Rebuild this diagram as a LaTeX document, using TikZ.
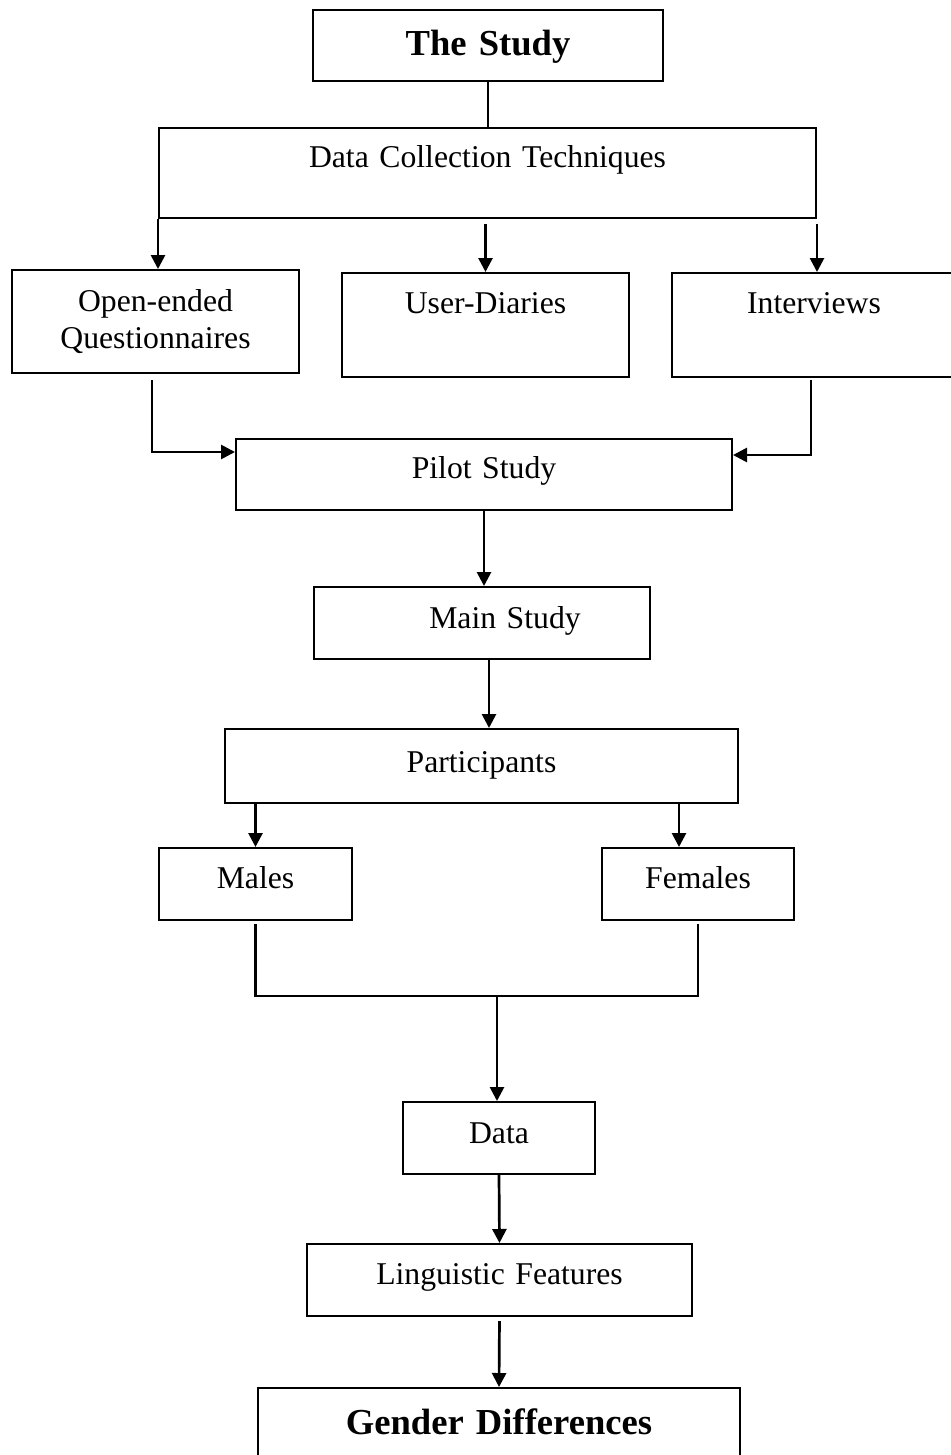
\documentclass[tikz,border=0pt]{standalone}
\usepackage{fontspec}
\setmainfont{Liberation Serif}
\usetikzlibrary{
arrows.meta,
positioning
}
\newlength{\pu}
\setlength{\pu}{0.5pt}
\tikzset{
gdbox/.style={draw=black, line width=1pt, inner sep=0pt, anchor=north west, align=center,
  font=\fontsize{15.85}{18.5}\selectfont},
gdtitle/.style={gdbox, font=\fontsize{18.3}{22}\selectfont\bfseries},
gdarrow/.style={-{Triangle[length=7pt, width=7pt]}, line width=1.35pt},
gdline/.style={line width=1.35pt}
}

\begin{document}
\begin{tikzpicture}[x=0.5pt, y=-0.5pt]
\useasboundingbox (0,0) rectangle (950,1455);

\node[gdtitle, text width=350\pu, text height=46\pu, text depth=25\pu] (study) at (312,9) {The Study};
\node[gdbox, text width=657\pu, text height=40\pu, text depth=50\pu] (dct) at (158,127) {Data Collection Techniques};

\node[gdbox, text width=287\pu, minimum height=103\pu] (open) at (11,269) {Open-ended\\Questionnaires};
\node[gdbox, text width=287\pu, text height=41\pu, text depth=63\pu] (diaries) at (341,272) {User-Diaries};
\node[gdbox, text width=284\pu, text height=41\pu, text depth=63\pu] (inter) at (671,272) {Interviews};

\node[gdbox, text width=496\pu, text height=39\pu, text depth=32\pu] (pilot) at (235,438) {Pilot Study};
\node[gdbox, text width=336\pu, text height=41\pu, text depth=31\pu] (main) at (313,586) {\hspace*{46\pu}Main Study};
\node[gdbox, text width=513\pu, text height=43\pu, text depth=31\pu] (part) at (224,728) {Participants};

\node[gdbox, text width=193\pu, text height=40\pu, text depth=32\pu] (males) at (158,847) {Males};
\node[gdbox, text width=192\pu, text height=40\pu, text depth=32\pu] (females) at (601,847) {Females};

\node[gdbox, text width=192\pu, text height=41\pu, text depth=31\pu] (data) at (402,1101) {Data};
\node[gdbox, text width=385\pu, text height=40\pu, text depth=32\pu] (ling) at (306,1243) {Linguistic Features};
\node[gdtitle, text width=482\pu, text height=46\pu, text depth=47\pu] (gender) at (257,1387) {Gender Differences};

\coordinate (join) at (497,996);

\draw[gdline] (study.south) -- (study.south |- dct.north);
\draw[gdarrow] (dct.south west) -- (dct.south west |- open.north);
\draw[gdarrow, shorten <=5\pu] (dct.south -| diaries.north) -- (diaries.north);
\draw[gdarrow, shorten <=5\pu] (dct.south east) -- (dct.south east |- inter.north);

\draw[gdarrow, shorten <=6\pu] ([xshift=-3.5\pu]open.south) |- ([yshift=22.5\pu]pilot.west);
\draw[gdarrow, shorten <=2\pu] ([xshift=-3\pu]inter.south) |- ([yshift=19.5\pu]pilot.east);

\draw[gdarrow] (pilot.south) -- (pilot.south |- main.north);
\draw[gdarrow] ([xshift=7\pu]main.south) -- ([xshift=7\pu]main.south |- part.north);
\draw[gdarrow] (males.north |- part.south) -- (males.north);
\draw[gdarrow] ([xshift=-19\pu]females.north |- part.south) -- ([xshift=-19\pu]females.north);

\draw[gdline, shorten <=3\pu, shorten >=3\pu] (males.south) |- (join) -| (females.south);
\draw[gdarrow] (join) -- (join |- data.north);
\draw[gdarrow] (data.south) -- (ling.north);
\draw[gdarrow, shorten <=4\pu] (ling.south) -- (gender.north);
\end{tikzpicture}
\end{document}
